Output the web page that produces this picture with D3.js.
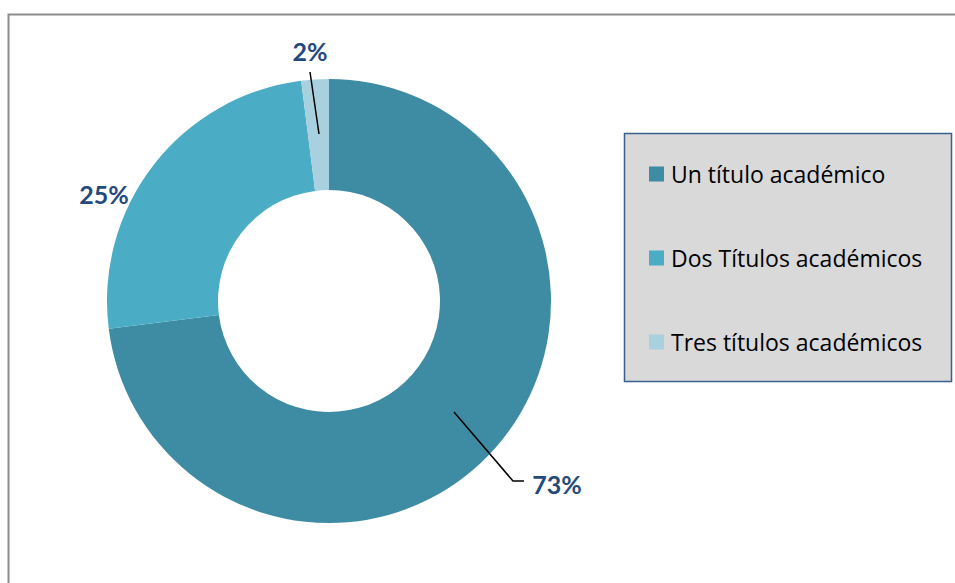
<!DOCTYPE html>
<html><head><meta charset="utf-8">
<script src="https://cdn.jsdelivr.net/npm/d3@7"></script>
<style>body{margin:0;background:#fff}svg{display:block}</style>
</head><body>
<svg id="c" width="955" height="583"></svg>
<script>
const categories = ["Un título académico", "Dos Títulos académicos", "Tres títulos académicos"];
const values = [73, 25, 2];
const labels = ["73%", "25%", "2%"];
const colors = ["#3d8ca3", "#4bacc6", "#a8d0de"];

const svg = d3.select("#c");
// frame
svg.append("path").attr("d","M8.5,583 V14.5 H955").attr("fill","none").attr("stroke","#8c8c8c").attr("stroke-width",2);

const cx = 329, cy = 301, R = 222, r = 111;
const g = svg.append("g").attr("transform",`translate(${cx},${cy})`);
const pie = d3.pie().sort(null).value(d=>d);
const arcs = pie(values);
const arc = d3.arc().innerRadius(r).outerRadius(R);
g.selectAll("path.s").data(arcs).join("path").attr("class","s")
  .attr("d",arc).attr("fill",(d,i)=>colors[i]);

// leader lines (relative to center)
const leaders = [
  [[125,111],[184,180],[195,180]],
  null,
  [[-19,-229],[-10,-167]]
];
const labelPos = [[228,183],[-225,-107],[-19,-250]];
leaders.forEach(l=>{ if(l) g.append("path").attr("d",d3.line()(l)).attr("fill","none").attr("stroke","#000").attr("stroke-width",1.5);});
g.selectAll("text.lbl").data(arcs).join("text").attr("class","lbl")
  .attr("x",(d,i)=>labelPos[i][0]).attr("y",(d,i)=>labelPos[i][1])
  .attr("text-anchor","middle").attr("dominant-baseline","central")
  .attr("font-family","Lato, 'Open Sans', sans-serif").attr("font-weight","bold").attr("font-size",25)
  .attr("fill","#24497c").text((d,i)=>labels[i]);

// legend
const lg = svg.append("g");
lg.append("rect").attr("x",624.5).attr("y",133.5).attr("width",327).attr("height",248)
  .attr("fill","#d9d9d9").attr("stroke","#3b5f8c").attr("stroke-width",1.5);
const rowY = d3.scalePoint().domain(categories).range([174,342]);
categories.forEach((c,i)=>{
  lg.append("rect").attr("x",649).attr("y",rowY(c)-7.5).attr("width",15).attr("height",15).attr("fill",colors[i]);
  lg.append("text").attr("x",671).attr("y",rowY(c)).attr("dominant-baseline","central")
    .attr("font-family","'Open Sans', Lato, sans-serif").attr("font-size",23).attr("fill","#000").text(c);
});
</script>
</body></html>
